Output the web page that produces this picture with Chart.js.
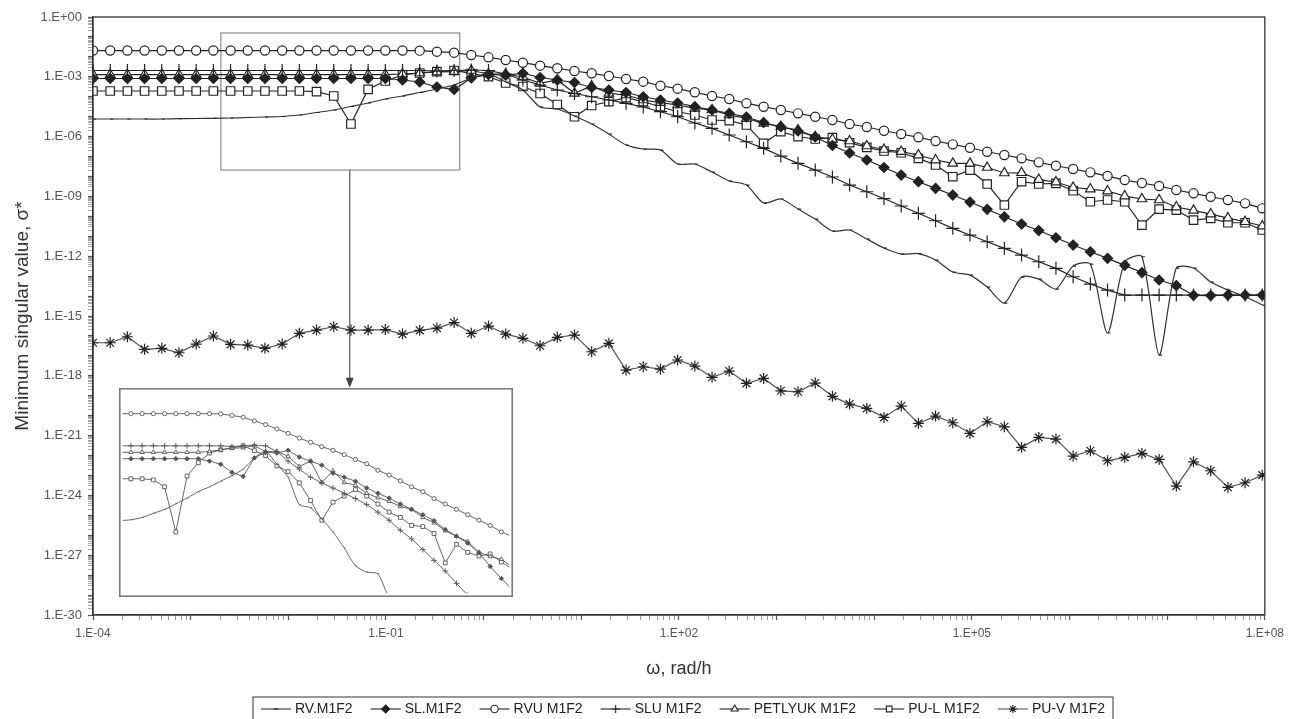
<!DOCTYPE html>
<html>
<head>
<meta charset="utf-8">
<script src="https://cdn.jsdelivr.net/npm/chart.js@4.4.1/dist/chart.umd.min.js"></script>
<style>
html,body{margin:0;padding:0;background:#fff;}
#wrap{position:relative;width:1290px;height:719px;overflow:hidden;}
#main{position:absolute;left:0;top:0;}
#inset{position:absolute;left:119px;top:388px;}
</style>
</head>
<body>
<div id="wrap">
<canvas id="main" width="1290" height="719"></canvas>
<canvas id="inset" width="394" height="209"></canvas>
</div>
<script>
// ---------------- DATA ----------------
// frequency ω, rad/h
const omega = [1e-4, 1.5e-4, 2.25e-4, 3.375e-4, 5.063e-4, 7.594e-4, 1.139e-3, 1.709e-3, 2.563e-3, 3.844e-3,
  5.767e-3, 8.65e-3, 1.298e-2, 1.946e-2, 2.919e-2, 4.379e-2, 6.568e-2, 9.853e-2,
  0.1478, 0.2217, 0.3325, 0.4988, 0.7482, 1.122, 1.683, 2.525, 3.788, 5.682, 8.522, 12.78, 19.18, 28.76, 43.14, 64.71, 97.07,
  145.6, 218.4, 327.6, 491.4, 737.1, 1106, 1659, 2488, 3732, 5598, 8397, 12595, 18892, 28338, 42507, 63760,
  95640, 143460, 215190, 322790, 484180, 726270, 1089400, 1634100, 2451200, 3676800,
  5515200, 8272700, 12409000, 18614000, 27920000, 41880000, 62821000, 94231000];

const seriesNames = ['RV.M1F2', 'SL.M1F2', 'RVU M1F2', 'SLU M1F2', 'PETLYUK M1F2', 'PU-L M1F2', 'PU-V M1F2'];

const rvM1F2 = [7.62e-6, 7.62e-6, 7.62e-6, 7.62e-6, 7.62e-6, 7.89e-6, 8.07e-6, 8.26e-6, 8.55e-6, 9.06e-6,
  9.6e-6, 1.02e-5, 1.21e-5, 1.62e-5, 2.16e-5, 3.23e-5, 4.84e-5, 7.69e-5, 1.09e-4, 1.63e-4,
  2.44e-4, 3.87e-4, 8.69e-4, 1.38e-3, 5.48e-4, 2.17e-4, 3.05e-5, 2.42e-5, 1.08e-5, 4.28e-6,
  1.35e-6, 3.78e-7, 2.38e-7, 2.12e-7, 4.21e-8, 4.21e-8, 1.67e-8, 5.9e-9, 3.72e-9, 4.65e-10,
  7.4e-10, 2.32e-10, 7.3e-11, 1.83e-11, 2.06e-11, 7.26e-12, 2.56e-12, 1.28e-12, 1.36e-12, 6.4e-13,
  1.6e-13, 1.13e-13, 2.83e-14, 4.46e-15, 9.0e-14, 7.1e-14, 2.25e-14, 3.21e-13, 4.04e-13, 1.4e-16,
  5.09e-13, 9.4e-13, 1.1e-17, 2.55e-13, 2.55e-13, 5.05e-14, 2.0e-14, 9.5e-15, 3.55e-15];

const slM1F2 = [8.2e-4, 8.2e-4, 8.2e-4, 8.2e-4, 8.2e-4, 8.2e-4, 8.2e-4, 8.2e-4, 8.2e-4, 8.2e-4,
  8.2e-4, 8.2e-4, 8.2e-4, 8.2e-4, 8.2e-4, 8.2e-4, 8.2e-4, 8.2e-4,
  6.9e-4, 5.48e-4, 3.08e-4, 2.30e-4, 8.69e-4, 1.30e-3, 1.23e-3, 1.50e-3, 9.2e-4, 6.9e-4,
  5.17e-4, 2.9e-4, 2.17e-4, 1.63e-4, 1.0e-4, 6.85e-5, 4.84e-5, 3.16e-5, 2.16e-5, 1.47e-5,
  9.6e-6, 5.09e-6, 3.13e-6, 1.91e-6, 9.53e-7, 3.57e-7, 1.5e-7, 6.68e-8, 2.81e-8, 1.18e-8,
  5.45e-9, 2.54e-9, 1.17e-9, 5.22e-10, 2.25e-10, 9.5e-11, 4.11e-11, 1.94e-11, 8.4e-12, 3.63e-12,
  1.67e-12, 7.8e-13, 3.48e-13, 1.51e-13, 6.4e-14, 3.37e-14, 1.09e-14, 1.06e-14, 1.12e-14, 1.12e-14, 1.12e-14];

const rvuM1F2 = [2.08e-2, 2.08e-2, 2.08e-2, 2.08e-2, 2.08e-2, 2.08e-2, 2.08e-2, 2.08e-2, 2.08e-2, 2.08e-2,
  2.08e-2, 2.08e-2, 2.08e-2, 2.08e-2, 2.08e-2, 2.08e-2, 2.08e-2, 2.08e-2, 2.08e-2, 2.05e-2,
  1.82e-2, 1.62e-2, 1.24e-2, 9.5e-3, 6.95e-3, 5.09e-3, 3.61e-3, 2.67e-3, 1.95e-3, 1.50e-3,
  1.10e-3, 7.74e-4, 5.68e-4, 3.57e-4, 2.53e-4, 1.67e-4, 1.09e-4, 7.69e-5, 4.68e-5, 3.16e-5,
  2.16e-5, 1.47e-5, 9.9e-6, 6.8e-6, 4.28e-6, 3.03e-6, 1.97e-6, 1.35e-6, 9.2e-7, 6.0e-7,
  4.09e-7, 2.77e-7, 1.74e-7, 1.19e-7, 8.1e-8, 5.1e-8, 3.46e-8, 2.36e-8, 1.61e-8, 1.05e-8,
  6.6e-9, 4.69e-9, 3.31e-9, 2.09e-9, 1.43e-9, 9.6e-10, 6.6e-10, 4.49e-10, 2.52e-10];

const sluM1F2 = [2.07e-3, 2.07e-3, 2.07e-3, 2.07e-3, 2.07e-3, 2.07e-3, 2.07e-3, 2.07e-3, 2.07e-3, 2.07e-3,
  2.07e-3, 2.07e-3, 2.07e-3, 2.07e-3, 2.07e-3, 2.07e-3, 2.07e-3, 2.07e-3, 2.07e-3, 2.07e-3,
  1.95e-3, 2.07e-3, 2.19e-3, 2.07e-3, 1.38e-3, 6.9e-4, 3.87e-4, 2.17e-4, 1.45e-4, 1.0e-4,
  6.85e-5, 4.68e-5, 3.05e-5, 1.77e-5, 9.9e-6, 4.8e-6, 2.6e-6, 1.2e-6, 5.53e-7, 2.58e-7,
  1.06e-7, 4.56e-8, 2.1e-8, 9.4e-9, 3.72e-9, 1.71e-9, 7.8e-10, 3.29e-10, 1.42e-10, 6.0e-11,
  2.5e-11, 1.15e-11, 5.32e-12, 2.48e-12, 1.14e-12, 5.27e-13, 2.46e-13, 9.3e-14, 4.01e-14, 2.0e-14,
  1.12e-14, 1.12e-14, 1.12e-14, 1.12e-14, 1.12e-14, 1.12e-14, 1.12e-14, 1.12e-14, 1.12e-14];

const petlyukM1F2 = [1.30e-3, 1.30e-3, 1.30e-3, 1.30e-3, 1.30e-3, 1.30e-3, 1.30e-3, 1.30e-3, 1.30e-3, 1.30e-3,
  1.30e-3, 1.30e-3, 1.30e-3, 1.30e-3, 1.30e-3, 1.30e-3, 1.30e-3, 1.30e-3,
  1.38e-3, 1.55e-3, 1.74e-3, 1.80e-3, 2.07e-3, 1.38e-3, 1.38e-3, 9.76e-4, 4.71e-4, 6.9e-4,
  1.48e-4, 3.45e-4, 1.48e-4, 1.22e-4, 6.85e-5, 5.01e-5, 3.84e-5, 2.63e-5, 2.16e-5, 1.21e-5,
  8.26e-6, 4.64e-6, 3.13e-6, 2.14e-6, 9.86e-7, 7.31e-7, 6.0e-7, 3.37e-7, 2.25e-7, 1.78e-7,
  1.19e-7, 6.68e-8, 4.56e-8, 4.56e-8, 2.81e-8, 1.49e-8, 1.54e-8, 7.0e-9, 5.26e-9, 2.79e-9,
  2.34e-9, 1.86e-9, 1.04e-9, 7.4e-10, 6.6e-10, 2.93e-10, 2.0e-10, 1.3e-10, 8.2e-11, 5.36e-11, 3.26e-11];

const pulM1F2 = [1.94e-4, 1.94e-4, 1.94e-4, 1.94e-4, 1.94e-4, 1.94e-4, 1.94e-4, 1.94e-4, 1.94e-4, 1.94e-4,
  1.94e-4, 1.94e-4, 1.94e-4,
  1.79e-4, 1.09e-4, 4.28e-6, 2.36e-4, 6.15e-4, 1.23e-3, 1.55e-3, 1.80e-3, 2.07e-3, 1.46e-3,
  1.01e-3, 4.88e-4, 3.26e-4, 1.45e-4, 4.07e-5, 9.9e-6, 3.62e-5, 5.62e-5, 8.93e-5, 5.62e-5,
  3.16e-5, 1.77e-5, 1.21e-5, 6.8e-6, 6.27e-6, 3.81e-6, 4.6e-7, 1.76e-6, 9.86e-7, 7.57e-7,
  8.79e-7, 4.93e-7, 2.9e-7, 1.89e-7, 1.55e-7, 8.13e-8, 3.75e-8, 9.7e-9, 2.1e-8, 4.18e-9,
  3.69e-10, 5.45e-9, 4.18e-9, 4.53e-9, 1.92e-9, 5.4e-10, 6.6e-10, 5.4e-10, 3.66e-11, 2.32e-10,
  2.07e-10, 6.5e-11, 7.9e-11, 4.77e-11, 4.77e-11, 2.06e-11];

const puvM1F2 = [4.55e-17, 4.55e-17, 9.1e-17, 2.12e-17, 2.38e-17, 1.43e-17, 3.92e-17, 9.9e-17, 3.78e-17, 3.48e-17,
  2.38e-17, 3.92e-17, 1.35e-16, 1.97e-16, 2.89e-16, 1.97e-16, 1.97e-16, 2.09e-16, 1.24e-16, 1.91e-16,
  2.48e-16, 4.69e-16, 1.35e-16, 3.13e-16, 1.24e-16, 7.6e-17, 3.21e-17, 8.5e-17, 1.11e-16, 1.61e-17,
  4.25e-17, 1.94e-18, 2.84e-18, 2.18e-18, 6.2e-18, 3.08e-18, 8.4e-19, 1.73e-18, 4.18e-19, 7.4e-19,
  1.77e-19, 1.58e-19, 4.33e-19, 9.3e-20, 3.82e-20, 2.32e-20, 8.2e-21, 3.03e-20, 4.11e-21, 9.5e-21,
  4.4e-21, 1.29e-21, 4.94e-21, 2.77e-21, 2.57e-22, 8.1e-22, 6.7e-22, 9.4e-23, 1.73e-22, 5.46e-23,
  8.1e-23, 1.28e-22, 6.4e-23, 2.94e-24, 4.86e-23, 1.72e-23, 2.52e-24, 4.3e-24, 1.04e-23];

const seriesValues = [rvM1F2, slM1F2, rvuM1F2, sluM1F2, petlyukM1F2, pulM1F2, puvM1F2];

// tick labels
const xLabelValues = [1e-4, 1e-1, 1e2, 1e5, 1e8];
const xTickLabels = ['1.E-04', '1.E-01', '1.E+02', '1.E+05', '1.E+08'];
const yLabelValues = [1e0, 1e-3, 1e-6, 1e-9, 1e-12, 1e-15, 1e-18, 1e-21, 1e-24, 1e-27, 1e-30];
const yTickLabels = ['1.E+00', '1.E-03', '1.E-06', '1.E-09', '1.E-12', '1.E-15', '1.E-18', '1.E-21', '1.E-24', '1.E-27', '1.E-30'];

// axis ranges
const xRange = [1e-4, 1e8];
const yRange = [1e-30, 1];
// zoom window (data units) and inset ranges
const zoomBoxX = [2.04e-3, 0.569];
const zoomBoxY = [0.158, 2.1e-8];
const arrowX = 0.0426;
const arrowTipY = 2.5e-19;
const insetX = [6.46e-3, 7413];
const insetY = [5.25e-8, 0.1];

// ---------------- STYLE ----------------
Chart.defaults.font.family = '"Liberation Sans", Arial, sans-serif';
const INK = '#222';
const markStyles = [
  {ps: 'dash', r: 3, fill: INK, tension: 0.25, line: '#333'},
  {ps: 'rectRot', r: 5, fill: INK, line: INK},
  {ps: 'circle', r: 4.6, fill: '#fff', line: INK},
  {ps: 'cross', r: 6.5, fill: INK, line: INK},
  {ps: 'triangle', r: 5.5, fill: '#fff', line: INK},
  {ps: 'rect', r: 6, fill: '#fff', line: INK},
  {ps: 'star', r: 5.5, fill: INK, line: '#555'}
];

function near(a, b) { return Math.abs(Math.log10(a) - Math.log10(b)) < 1e-6; }
function logTickList(lo, hi) {
  const out = [];
  const e0 = Math.round(Math.log10(lo)), e1 = Math.round(Math.log10(hi));
  for (let e = e0; e <= e1; e++) {
    out.push({value: Math.pow(10, e), major: true});
    if (e < e1) for (let m = 2; m <= 9; m++) out.push({value: m * Math.pow(10, e), major: false});
  }
  return out;
}
function labelFor(v, vals, labs) {
  for (let i = 0; i < vals.length; i++) if (near(v, vals[i])) return labs[i];
  return '';
}

function makeDatasets(scale, lw, colorOverride) {
  return seriesValues.map((vals, k) => {
    const s = markStyles[k];
    const c = colorOverride || s.line;
    return {
      label: seriesNames[k],
      data: omega.map((w, i) => ({x: w, y: vals[i]})),
      borderColor: c,
      borderWidth: lw,
      pointStyle: s.ps,
      pointRadius: s.r * scale,
      pointHoverRadius: s.r * scale,
      pointBorderColor: colorOverride || INK,
      pointBackgroundColor: s.fill === '#fff' ? '#fff' : (colorOverride || INK),
      pointBorderWidth: lw,
      tension: s.tension || 0,
      fill: false
    };
  });
}

function drawMark(ctx, ps, x, y, r) {
  ctx.beginPath();
  if (ps === 'circle') { ctx.arc(x, y, r, 0, Math.PI * 2); ctx.fill(); ctx.stroke(); }
  else if (ps === 'rectRot') { ctx.moveTo(x, y - r); ctx.lineTo(x + r, y); ctx.lineTo(x, y + r); ctx.lineTo(x - r, y); ctx.closePath(); ctx.fill(); ctx.stroke(); }
  else if (ps === 'rect') { const s = r * Math.SQRT1_2; ctx.rect(x - s, y - s, 2 * s, 2 * s); ctx.fill(); ctx.stroke(); }
  else if (ps === 'triangle') { ctx.moveTo(x, y - r); ctx.lineTo(x + r * 0.866, y + r * 0.5); ctx.lineTo(x - r * 0.866, y + r * 0.5); ctx.closePath(); ctx.fill(); ctx.stroke(); }
  else if (ps === 'cross') { ctx.moveTo(x, y - r); ctx.lineTo(x, y + r); ctx.moveTo(x - r, y); ctx.lineTo(x + r, y); ctx.stroke(); }
  else if (ps === 'star') { const d = r * Math.SQRT1_2; ctx.moveTo(x, y - r); ctx.lineTo(x, y + r); ctx.moveTo(x - r, y); ctx.lineTo(x + r, y); ctx.moveTo(x - d, y - d); ctx.lineTo(x + d, y + d); ctx.moveTo(x - d, y + d); ctx.lineTo(x + d, y - d); ctx.stroke(); }
  else if (ps === 'dash') { ctx.moveTo(x - r, y); ctx.lineTo(x + r, y); ctx.stroke(); }
}

const decor = {
  id: 'decor',
  beforeDatasetsDraw(chart) {
    const {ctx, scales: {x, y}} = chart;
    ctx.save();
    ctx.strokeStyle = '#8a8a8a';
    ctx.lineWidth = 1.2;
    const l = x.getPixelForValue(zoomBoxX[0]), r = x.getPixelForValue(zoomBoxX[1]);
    const t = y.getPixelForValue(zoomBoxY[0]), b = y.getPixelForValue(zoomBoxY[1]);
    ctx.strokeRect(l, t, r - l, b - t);
    const ax = x.getPixelForValue(arrowX), tip = y.getPixelForValue(arrowTipY);
    ctx.strokeStyle = '#555';
    ctx.beginPath(); ctx.moveTo(ax, b); ctx.lineTo(ax, tip - 8); ctx.stroke();
    ctx.fillStyle = '#444';
    ctx.beginPath(); ctx.moveTo(ax - 4, tip - 10); ctx.lineTo(ax + 4, tip - 10); ctx.lineTo(ax, tip); ctx.closePath(); ctx.fill();
    ctx.restore();
  },
  afterDraw(chart) {
    const {ctx, chartArea: a} = chart;
    ctx.save();
    ctx.strokeStyle = '#333';
    ctx.lineWidth = 1.3;
    ctx.strokeRect(a.left, a.top, a.right - a.left, a.bottom - a.top);
    // legend
    ctx.font = '14px "Liberation Sans", Arial, sans-serif';
    ctx.textBaseline = 'middle';
    const sym = 30, gap1 = 4;
    const widths = seriesNames.map(n => sym + gap1 + ctx.measureText(n).width);
    const boxL = 253, boxR = 1113, boxT = 697, cy = 709;
    const pad = 8;
    const total = widths.reduce((s, w) => s + w, 0);
    const g = (boxR - boxL - 2 * pad - total) / (seriesNames.length - 1);
    ctx.lineWidth = 1;
    ctx.strokeStyle = '#333';
    ctx.strokeRect(boxL, boxT, boxR - boxL, 30);
    let xx = boxL + pad;
    seriesNames.forEach((n, k) => {
      const s = markStyles[k];
      ctx.strokeStyle = s.line; ctx.lineWidth = 1.1;
      ctx.beginPath(); ctx.moveTo(xx, cy); ctx.lineTo(xx + sym, cy); ctx.stroke();
      ctx.strokeStyle = INK; ctx.fillStyle = s.fill;
      drawMark(ctx, s.ps, xx + sym / 2, cy, Math.min(s.r, 5) * 0.8);
      ctx.fillStyle = '#222';
      ctx.fillText(n, xx + sym + gap1, cy + 0.5);
      xx += widths[k] + g;
    });
    ctx.restore();
  }
};

new Chart(document.getElementById('main'), {
  type: 'line',
  data: {datasets: makeDatasets(1, 1.2, null)},
  options: {
    responsive: false,
    animation: false,
    events: [],
    layout: {padding: {top: 17, right: 24, bottom: 29, left: 0}},
    plugins: {legend: {display: false}, tooltip: {enabled: false}},
    scales: {
      x: {
        type: 'logarithmic', min: xRange[0], max: xRange[1], position: 'bottom',
        afterBuildTicks: (s) => { s.ticks = logTickList(xRange[0], xRange[1]); },
        afterFit: (s) => { s.height = 75; },
        grid: {drawOnChartArea: false, drawTicks: true, tickLength: 5, tickColor: '#555',
               tickWidth: (c) => (c.tick && c.tick.major ? 1.2 : 0.6)},
        border: {display: true, color: '#333', width: 1.3},
        ticks: {autoSkip: false, maxRotation: 0, minRotation: 0, padding: 6, color: '#555',
                font: {size: 12},
                callback: (v) => labelFor(v, xLabelValues, xTickLabels)},
        title: {display: true, text: 'ω, rad/h', color: '#333', font: {size: 18}, padding: {top: 4, bottom: 10}}
      },
      y: {
        type: 'logarithmic', min: yRange[0], max: yRange[1], position: 'left',
        afterBuildTicks: (s) => { s.ticks = logTickList(yRange[0], yRange[1]); },
        afterFit: (s) => { s.width = 93; },
        grid: {drawOnChartArea: false, drawTicks: true, tickLength: 5, tickColor: '#555',
               tickWidth: (c) => (c.tick && c.tick.major ? 1.2 : 0.5)},
        border: {display: true, color: '#333', width: 1.3},
        ticks: {autoSkip: false, padding: 6, color: '#555', font: {size: 13},
                callback: (v) => labelFor(v, yLabelValues, yTickLabels)},
        title: {display: true, text: 'Minimum singular value, σ*', color: '#333', font: {size: 19}, padding: {top: 11, bottom: 0}}
      }
    }
  },
  plugins: [decor]
});

// ---------------- INSET ----------------
const insetFrame = {
  id: 'insetFrame',
  beforeDraw(chart) {
    const {ctx, width, height} = chart;
    ctx.save(); ctx.fillStyle = '#fff'; ctx.fillRect(0, 0, width, height); ctx.restore();
  },
  afterDraw(chart) {
    const {ctx, width, height} = chart;
    ctx.save(); ctx.strokeStyle = '#7a7a7a'; ctx.lineWidth = 1.6;
    ctx.strokeRect(0.8, 0.8, width - 1.6, height - 1.6); ctx.restore();
  }
};
new Chart(document.getElementById('inset'), {
  type: 'line',
  data: {datasets: makeDatasets(0.45, 0.9, '#555')},
  options: {
    responsive: false,
    animation: false,
    events: [],
    layout: {padding: 0},
    plugins: {legend: {display: false}, tooltip: {enabled: false}},
    scales: {
      x: {type: 'logarithmic', display: false, min: insetX[0], max: insetX[1]},
      y: {type: 'logarithmic', display: false, min: insetY[0], max: insetY[1]}
    }
  },
  plugins: [insetFrame]
});
</script>
</body>
</html>
